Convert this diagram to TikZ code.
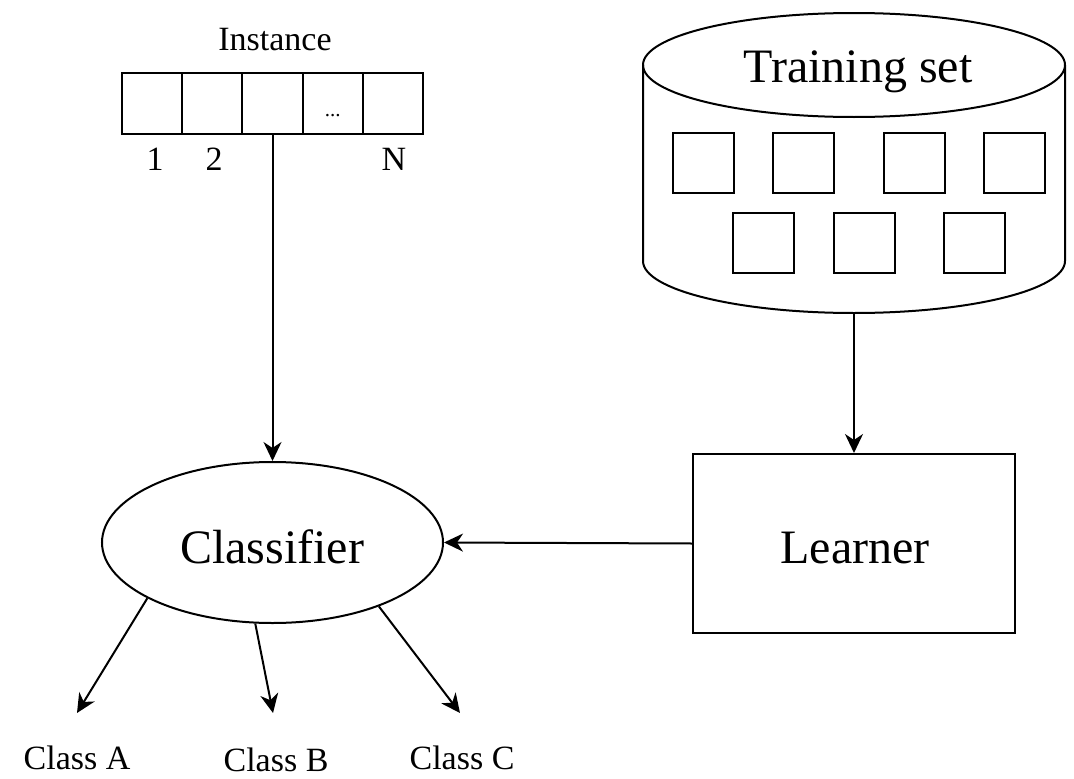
\documentclass[tikz,border=0pt]{standalone}
\usepackage{fontspec}
\setmainfont{Liberation Serif}
\usetikzlibrary{arrows.meta,shapes.geometric}

\tikzset{
  line/.style={line width=2pt},
  arr/.style={line, -{Stealth[length=19pt,width=18pt,inset=6pt]}},
  cell/.style={draw, line width=2pt, minimum width=60.2pt, minimum height=61pt, inner sep=0pt},
  sample/.style={draw, line width=2pt, minimum width=61pt, minimum height=60pt, inner sep=0pt},
  bigtxt/.style={font=\fontsize{48}{56}\selectfont, anchor=base, inner sep=0pt},
  smalltxt/.style={font=\fontsize{34}{40}\selectfont, anchor=base, inner sep=0pt},
}

\begin{document}
\begin{tikzpicture}[x=1pt, y=-1pt]
\useasboundingbox (0,0) rectangle (1074,779);

% feature vector of one instance
\node[smalltxt] (instlbl) at (275,50) {Instance};
\node[cell] (c1) at (152.1,103) {};
\node[cell] (c2) at (212.3,103) {};
\node[cell] (c3) at (272.5,103) {};
\node[cell] (c4) at (332.7,103) {};
\node[cell] (c5) at (392.9,103) {};
\node[font=\fontsize{21}{24}\selectfont, anchor=base, inner sep=0pt] (dots) at (332.7,116) {...};
\node[smalltxt] (n1) at (155,170) {1};
\node[smalltxt] (n2) at (214,170) {2};
\node[smalltxt] (nN) at (394,170) {N};

% training set drawn as a cylinder
\draw[line] (854,65) ellipse [x radius=211, y radius=52];
\draw[line] (643,65) -- (643,261)
  arc[start angle=180, end angle=0, x radius=211, y radius=52] -- (1065,65);
\node[bigtxt] (tslbl) at (858,82) {Training set};
\coordinate (tsbot) at (854,313);

\node[sample] (s1) at (703.5,163) {};
\node[sample] (s2) at (803.5,163) {};
\node[sample] (s3) at (914.5,163) {};
\node[sample] (s4) at (1014.5,163) {};
\node[sample] (s5) at (763.5,243) {};
\node[sample] (s6) at (864.5,243) {};
\node[sample] (s7) at (974.5,243) {};

% learner and classifier
\node[draw, line width=2pt, minimum width=322pt, minimum height=179pt, inner sep=0pt]
  (learner) at (854,543.5) {};
\node[bigtxt] (learnerlbl) at (855,563) {Learner};

\node[draw, ellipse, line width=2pt, minimum width=341pt, minimum height=161pt, inner sep=0pt]
  (cls) at (272.5,542.5) {};
\node[bigtxt] (clslbl) at (272,563) {Classifier};

% output classes
\node[smalltxt] (ca) at (77,769) {Class A};
\node[smalltxt] (cb) at (276,771) {Class B};
\node[smalltxt] (cc) at (462,769) {Class C};
\coordinate (ea) at (77,713);
\coordinate (eb) at (273,713);
\coordinate (ec) at (460,713);

% connectors
\draw[arr] (c3.south) -- (cls.north);
\draw[arr] (tsbot) -- (learner.north);
\draw[arr] (learner.west) -- (cls.east);
\draw[arr] (cls.204) -- (ea);
\draw[arr] (cls.258) -- (eb);
\draw[arr] (cls.329) -- (ec);
\end{tikzpicture}
\end{document}
